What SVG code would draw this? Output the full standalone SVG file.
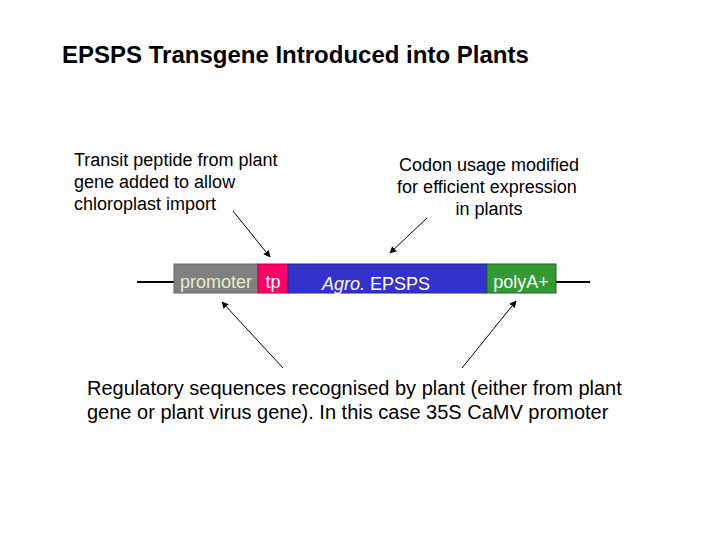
<svg xmlns="http://www.w3.org/2000/svg" width="720" height="540" viewBox="0 0 720 540">
<style>
text{font-family:"Liberation Sans",Arial,sans-serif;fill:#000}
.lbl{font-size:18px}
.btxt{font-size:18px}
.con{stroke:#000;stroke-width:1;fill:none}
</style>
<defs>
<marker id="ah" viewBox="0 0 10 10" refX="9" refY="5" markerWidth="7" markerHeight="7" orient="auto" markerUnits="userSpaceOnUse">
<path d="M0,0 L10,5 L0,10 z" fill="#000"/>
</marker>
</defs>
<rect width="720" height="540" fill="#fff"/>
<text x="62" y="63" style="font-size:24px;font-weight:bold">EPSPS Transgene Introduced into Plants</text>
<g id="backbone">
<line x1="137" y1="282" x2="174" y2="282" stroke="#000" stroke-width="2"/>
<line x1="556" y1="282" x2="590" y2="282" stroke="#000" stroke-width="2"/>
</g>
<g id="promoter">
<rect x="174" y="264" width="84" height="29" fill="#808080" stroke="#666"/>
<text x="216" y="288" class="btxt" text-anchor="middle" style="fill:#ebebd0">promoter</text>
</g>
<g id="tp">
<rect x="258" y="264" width="30" height="29" fill="#ff0066" stroke="#b3004a"/>
<text x="273" y="288" class="btxt" text-anchor="middle" style="fill:#fff">tp</text>
</g>
<g id="epsps">
<rect x="288" y="264" width="199" height="29" fill="#3333cc" stroke="#222299"/>
<text x="376" y="290" class="btxt" text-anchor="middle" style="fill:#fff"><tspan font-style="italic">Agro.</tspan> EPSPS</text>
</g>
<g id="polya">
<rect x="487" y="264" width="69" height="29" fill="#339933" stroke="#226622"/>
<text x="521" y="288" class="btxt" text-anchor="middle" style="fill:#fff">polyA+</text>
</g>
<g id="label-transit">
<text class="lbl" x="74" y="166">Transit peptide from plant</text>
<text class="lbl" x="74" y="188">gene added to allow</text>
<text class="lbl" x="74" y="210">chloroplast import</text>
</g>
<g id="label-codon">
<text class="lbl" x="489" y="171" text-anchor="middle">Codon usage modified</text>
<text class="lbl" x="487" y="193" text-anchor="middle">for efficient expression</text>
<text class="lbl" x="489" y="215" text-anchor="middle">in plants</text>
</g>
<g id="label-regulatory">
<text x="87" y="395" style="font-size:20px">Regulatory sequences recognised by plant (either from plant</text>
<text x="87" y="419" style="font-size:20px">gene or plant virus gene). In this case 35S CaMV promoter</text>
</g>
<g id="connectors">
<line class="con" x1="233" y1="211" x2="270" y2="257" marker-end="url(#ah)"/>
<line class="con" x1="427" y1="218" x2="390" y2="253" marker-end="url(#ah)"/>
<line class="con" x1="283" y1="368" x2="222" y2="302" marker-end="url(#ah)"/>
<line class="con" x1="462" y1="368" x2="516" y2="301" marker-end="url(#ah)"/>
</g>
</svg>
